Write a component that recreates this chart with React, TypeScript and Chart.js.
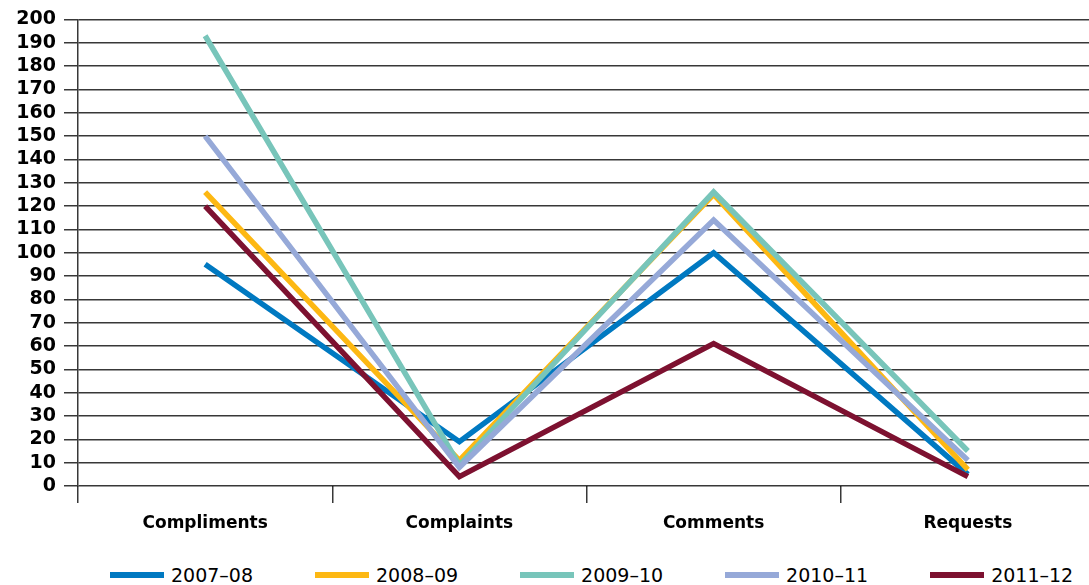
import { useEffect, useRef } from "react";
import { Chart, ChartConfiguration, registerables } from "chart.js";

Chart.register(...registerables);

const categories = ["Compliments", "Complaints", "Comments", "Requests"];
const seriesLabels = ["2007–08", "2008–09", "2009–10", "2010–11", "2011–12"];
const colors = ["#0079C1", "#FDB813", "#78C5BA", "#96A9D8", "#7D1130"];

const values2007 = [95, 19, 100, 5];
const values2008 = [126, 11, 125, 7];
const values2009 = [193, 9, 126, 15];
const values2010 = [150, 8, 114, 11];
const values2011 = [120, 4, 61, 4];

const seriesValues = [values2007, values2008, values2009, values2010, values2011];

const GRID = "rgba(0,0,0,0.78)";
const FONT = "'DejaVu Sans', sans-serif";

const App = () => {
  const canvasRef = useRef<HTMLCanvasElement | null>(null);
  const chartRef = useRef<Chart<"line"> | null>(null);

  useEffect(() => {
    if (!canvasRef.current) return;

    const config: ChartConfiguration<"line"> = {
      type: "line",
      data: {
        labels: categories,
        datasets: seriesLabels.map((label, i) => ({
          label,
          data: seriesValues[i],
          borderColor: colors[i],
          backgroundColor: colors[i],
          borderWidth: 5.5,
          borderJoinStyle: "miter",
          borderCapStyle: "butt",
          pointRadius: 0,
          tension: 0,
          order: seriesLabels.length - i,
        })),
      },
      options: {
        animation: false,
        responsive: true,
        maintainAspectRatio: false,
        layout: { padding: { top: 18, left: 0, right: 0, bottom: 0 } },
        plugins: {
          legend: { display: false },
          tooltip: { enabled: false },
        },
        scales: {
          x: {
            offset: true,
            grid: {
              offset: true,
              drawOnChartArea: false,
              drawTicks: true,
              tickLength: 17,
              color: GRID,
              lineWidth: 1.5,
            },
            border: { display: false },
            ticks: {
              padding: 10,
              color: "#000",
              font: { family: FONT, size: 17, weight: "bold" },
            },
            afterFit: (scale) => {
              scale.height = 54;
            },
          },
          y: {
            min: 0,
            max: 200,
            ticks: {
              stepSize: 10,
              autoSkip: false,
              padding: 8,
              color: "#000",
              font: { family: FONT, size: 19, weight: "bold" },
            },
            grid: {
              color: GRID,
              lineWidth: 1.5,
              tickLength: 14,
            },
            border: { display: true, color: GRID, width: 1.5 },
            afterFit: (scale) => {
              scale.width = 78;
            },
          },
        },
      },
    };

    const ctx = canvasRef.current.getContext("2d");
    if (!ctx) return;

    chartRef.current = new Chart(ctx, config);

    return () => {
      chartRef.current?.destroy();
    };
  }, []);

  return (
    <div
      style={{
        position: "absolute",
        left: 0,
        top: 0,
        width: 1089,
        height: 585,
        overflow: "hidden",
        background: "#fff",
        fontFamily: FONT,
      }}
    >
      <div style={{ position: "relative", width: 1095, height: 540 }}>
        <canvas ref={canvasRef} />
      </div>
      <div
        style={{
          position: "absolute",
          top: 563,
          left: 110,
          display: "flex",
          alignItems: "center",
          gap: 62,
          height: 24,
        }}
      >
        {seriesLabels.map((label, i) => (
          <div key={label} style={{ display: "flex", alignItems: "center", gap: 7 }}>
            <span style={{ display: "inline-block", width: 54, height: 6, background: colors[i] }} />
            <span style={{ fontSize: 19, color: "#000", lineHeight: "24px", fontWeight: 500 }}>{label}</span>
          </div>
        ))}
      </div>
    </div>
  );
};

export default App;
